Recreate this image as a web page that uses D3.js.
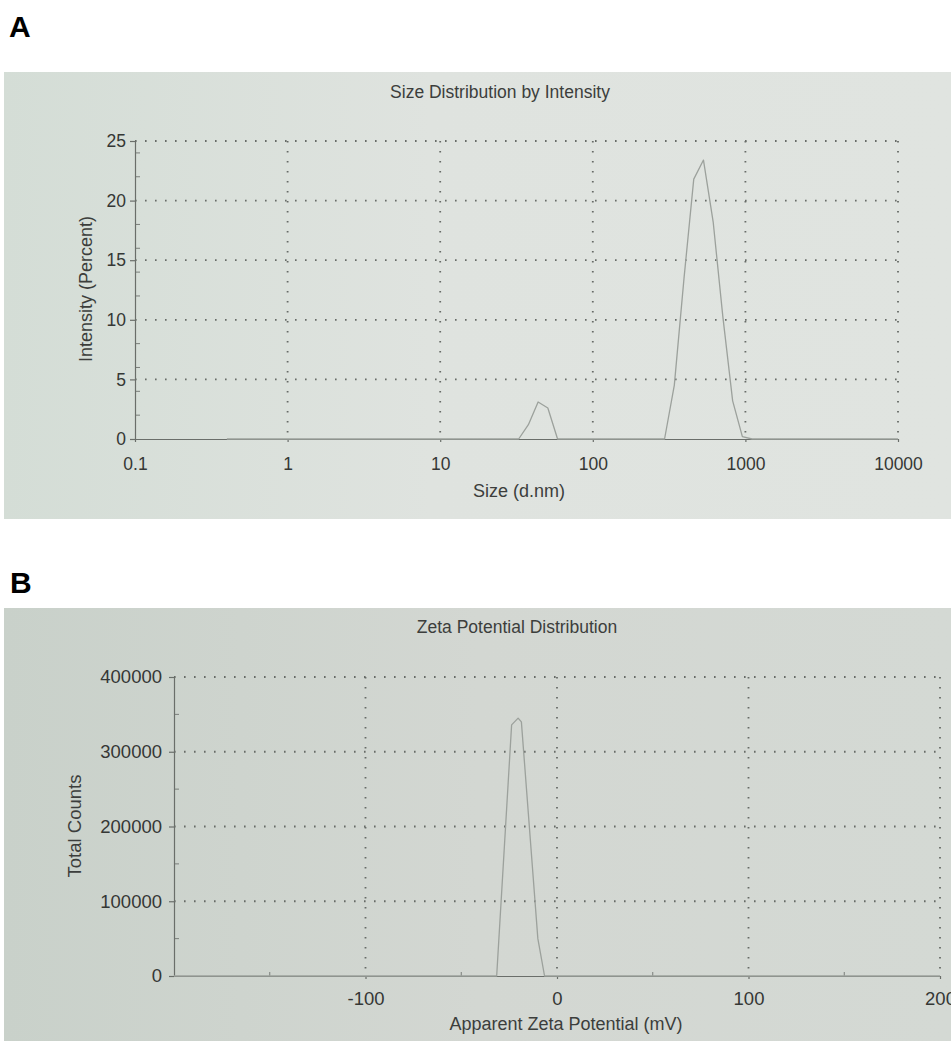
<!DOCTYPE html>
<html>
<head>
<meta charset="utf-8">
<script src="https://cdn.jsdelivr.net/npm/d3@7"></script>
<style>
	body { margin: 0; background: #fff; }
	text { font-family: "Liberation Sans", Arial, sans-serif; }
	.grid { stroke: #676b67; stroke-width: 1.8; stroke-dasharray: 1.6 8.4; }
	.axis path, .axis line { stroke: #6a6e6a; stroke-width: 1.2; }
	.axis text { fill: #353735; }
	.curve { fill: none; stroke: #9ca19c; stroke-width: 1.3; stroke-linejoin: round; }
</style>
</head>
<body>
<div id="chart"></div>
<script>
///////////////////////////////////////////////////////////////////////////
//////////////////////////// data /////////////////////////////////////////
///////////////////////////////////////////////////////////////////////////

// A - size distribution by intensity (size bins in d.nm, intensity in %)
const sizeNm = [0.4, 28.21, 32.67, 37.84, 43.82, 50.75, 58.77, 68.06, 295.3, 342.0, 396.1, 458.7, 531.2, 615.1, 712.4, 825.0, 955.4, 1106, 10000];
const intensityPct = [0, 0, 0, 1.2, 3.1, 2.6, 0, 0, 0, 4.5, 13.5, 21.8, 23.4, 18.2, 10.2, 3.2, 0.2, 0, 0];
const sizeTicks = [0.1, 1, 10, 100, 1000, 10000];
const intensityTicks = [0, 5, 10, 15, 20, 25];

// B - zeta potential distribution (mV, total counts)
const zetaMv = [-200, -31.5, -23.7, -20.3, -18.6, -10, -6.5, 200];
const zetaCounts = [0, 0, 336000, 345000, 340000, 50000, 0, 0];
const zetaTicks = [-100, 0, 100, 200];
const countTicks = [0, 100000, 200000, 300000, 400000];

///////////////////////////////////////////////////////////////////////////
//////////////////////////// set up svg ///////////////////////////////////
///////////////////////////////////////////////////////////////////////////

const width = 951;
const height = 1047;
const svg = d3.select("#chart")
	.append("svg")
	.attr("width", width)
	.attr("height", height);

// photo-ish paper tint
const defs = svg.append("defs");
const gradA = defs.append("linearGradient").attr("id", "paperA");
gradA.append("stop").attr("offset", "0%").attr("stop-color", "#d4ddd6");
gradA.append("stop").attr("offset", "45%").attr("stop-color", "#dfe3df");
gradA.append("stop").attr("offset", "100%").attr("stop-color", "#e0e4e0");
const gradB = defs.append("linearGradient").attr("id", "paperB");
gradB.append("stop").attr("offset", "0%").attr("stop-color", "#c9d1ca");
gradB.append("stop").attr("offset", "50%").attr("stop-color", "#d3d7d2");
gradB.append("stop").attr("offset", "100%").attr("stop-color", "#d4d9d4");

// panel letters
svg.append("text").attr("x", 9).attr("y", 37)
	.style("font-size", "30px").style("font-weight", "bold").text("A");
svg.append("text").attr("x", 10).attr("y", 593)
	.style("font-size", "30px").style("font-weight", "bold").text("B");

///////////////////////////////////////////////////////////////////////////
//////////////////////////// panel A //////////////////////////////////////
///////////////////////////////////////////////////////////////////////////

const gA = svg.append("g");
gA.append("rect")
	.attr("x", 4).attr("y", 72).attr("width", 947).attr("height", 447)
	.attr("fill", "url(#paperA)");

const xA = d3.scaleLog().domain([0.1, 10000]).range([135, 898]);
const yA = d3.scaleLinear().domain([0, 25]).range([439, 141]);

// dotted grid (top and right edges are grid lines too)
gA.append("g").selectAll("line")
	.data(intensityTicks.filter((d) => d > 0))
	.join("line")
	.attr("class", "grid")
	.attr("x1", xA(0.1)).attr("x2", xA(10000))
	.attr("y1", (d) => yA(d)).attr("y2", (d) => yA(d));
gA.append("g").selectAll("line")
	.data(sizeTicks.filter((d) => d > 0.1))
	.join("line")
	.attr("class", "grid")
	.attr("x1", (d) => xA(d)).attr("x2", (d) => xA(d))
	.attr("y1", yA(25)).attr("y2", yA(0));

// minor ticks on y, pointing inwards
gA.append("g").selectAll("line")
	.data(yA.ticks(10).filter((d) => !intensityTicks.includes(d)))
	.join("line")
	.attr("stroke", "#7a7e7a")
	.attr("x1", xA(0.1)).attr("x2", xA(0.1) + 5)
	.attr("y1", (d) => yA(d)).attr("y2", (d) => yA(d));

// axes
gA.append("g")
	.attr("class", "axis")
	.attr("transform", `translate(${xA(0.1)},0)`)
	.call(d3.axisLeft(yA).tickValues(intensityTicks).tickSize(5).tickSizeOuter(0).tickPadding(4))
	.selectAll("text").style("font-size", "17.5px");
gA.append("g")
	.attr("class", "axis")
	.attr("transform", `translate(0,${yA(0)})`)
	.call(d3.axisBottom(xA).tickValues(sizeTicks).tickFormat((d) => String(d)).tickSize(3).tickSizeOuter(0).tickPadding(16))
	.selectAll("text").style("font-size", "17.5px");

// curve
gA.append("path")
	.datum(d3.zip(sizeNm, intensityPct))
	.attr("class", "curve")
	.attr("d", d3.line().x((d) => xA(d[0])).y((d) => yA(d[1])));

// titles
gA.append("text").attr("x", 500).attr("y", 98).attr("text-anchor", "middle")
	.attr("fill", "#3c3e3c").style("font-size", "17.5px")
	.text("Size Distribution by Intensity");
gA.append("text").attr("x", 519).attr("y", 497).attr("text-anchor", "middle")
	.attr("fill", "#3c3e3c").style("font-size", "18px")
	.text("Size (d.nm)");
gA.append("text")
	.attr("transform", "translate(92,289) rotate(-90)")
	.attr("text-anchor", "middle")
	.attr("fill", "#3c3e3c").style("font-size", "18px")
	.text("Intensity (Percent)");

///////////////////////////////////////////////////////////////////////////
//////////////////////////// panel B //////////////////////////////////////
///////////////////////////////////////////////////////////////////////////

const gB = svg.append("g");
gB.append("rect")
	.attr("x", 4).attr("y", 608).attr("width", 947).attr("height", 433)
	.attr("fill", "url(#paperB)");

const xB = d3.scaleLinear().domain([-200, 200]).range([174, 940]);
const yB = d3.scaleLinear().domain([0, 400000]).range([976, 677]);

gB.append("g").selectAll("line")
	.data(countTicks.filter((d) => d > 0))
	.join("line")
	.attr("class", "grid")
	.attr("x1", xB(-200)).attr("x2", xB(200))
	.attr("y1", (d) => yB(d)).attr("y2", (d) => yB(d));
gB.append("g").selectAll("line")
	.data(zetaTicks)
	.join("line")
	.attr("class", "grid")
	.attr("x1", (d) => xB(d)).attr("x2", (d) => xB(d))
	.attr("y1", yB(400000)).attr("y2", yB(0));

// minor ticks
gB.append("g").selectAll("line")
	.data(yB.ticks(8).filter((d) => !countTicks.includes(d)))
	.join("line")
	.attr("stroke", "#7a7e7a")
	.attr("x1", xB(-200)).attr("x2", xB(-200) + 5)
	.attr("y1", (d) => yB(d)).attr("y2", (d) => yB(d));
gB.append("g").selectAll("line")
	.data(xB.ticks(8).filter((d) => !zetaTicks.includes(d) && d > -200))
	.join("line")
	.attr("stroke", "#7a7e7a")
	.attr("x1", (d) => xB(d)).attr("x2", (d) => xB(d))
	.attr("y1", yB(0)).attr("y2", yB(0) - 4);

gB.append("g")
	.attr("class", "axis")
	.attr("transform", `translate(${xB(-200)},0)`)
	.call(d3.axisLeft(yB).tickValues(countTicks).tickFormat((d) => String(d)).tickSize(5).tickSizeOuter(0).tickPadding(7))
	.selectAll("text").style("font-size", "18.5px");
gB.append("g")
	.attr("class", "axis")
	.attr("transform", `translate(0,${yB(0)})`)
	.call(d3.axisBottom(xB).tickValues(zetaTicks).tickFormat((d) => String(d)).tickSize(3).tickSizeOuter(0).tickPadding(13))
	.selectAll("text").style("font-size", "18.5px");

gB.append("path")
	.datum(d3.zip(zetaMv, zetaCounts))
	.attr("class", "curve")
	.attr("d", d3.line().x((d) => xB(d[0])).y((d) => yB(d[1])));

gB.append("text").attr("x", 517).attr("y", 633).attr("text-anchor", "middle")
	.attr("fill", "#3c3e3c").style("font-size", "17.5px")
	.text("Zeta Potential Distribution");
gB.append("text").attr("x", 566).attr("y", 1030).attr("text-anchor", "middle")
	.attr("fill", "#3c3e3c").style("font-size", "18px")
	.text("Apparent Zeta Potential (mV)");
gB.append("text")
	.attr("transform", "translate(81,826) rotate(-90)")
	.attr("text-anchor", "middle")
	.attr("fill", "#3c3e3c").style("font-size", "18.5px")
	.text("Total Counts");
</script>
</body>
</html>
